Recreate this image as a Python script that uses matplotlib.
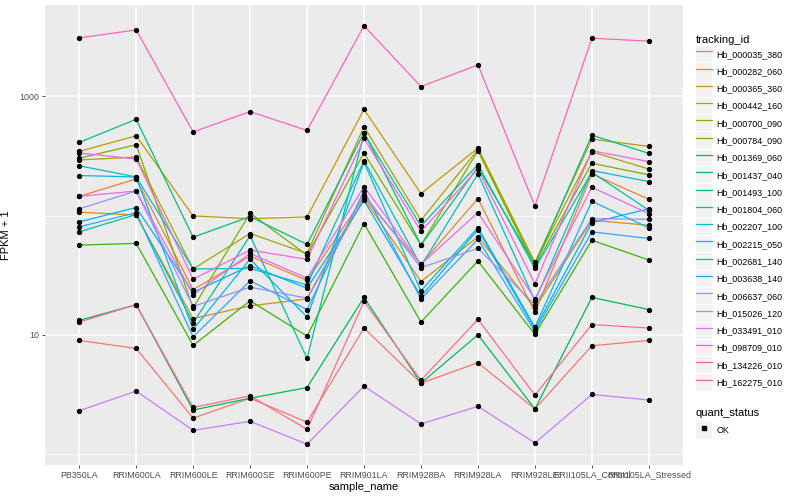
import matplotlib
matplotlib.use("Agg")
import matplotlib.pyplot as plt
from matplotlib.lines import Line2D
from matplotlib.patches import Patch
from matplotlib.ticker import FixedLocator, NullFormatter

plt.rcParams['font.family'] = ['Liberation Sans', 'DejaVu Sans']

# samples on the x axis
sample_name = ['PB350LA', 'RRIM600LA', 'RRIM600LE', 'RRIM600SE', 'RRIM600PE',
               'RRIM901LA', 'RRIM928BA', 'RRIM928LA', 'RRIM928LE',
               'RRII105LA_Control', 'RRII105LA_Stressed']

# FPKM + 1 per gene, one value per sample
hb_000035_380 = [8.97, 7.69, 2.0, 2.94, 1.85, 11.4, 3.93, 5.84, 2.39, 8.09, 8.97]
hb_000282_060 = [145, 203, 23.9, 45.8, 28.6, 143, 39.1, 139, 15.5, 224, 137]
hb_000365_360 = [107, 101, 13.7, 17.5, 20.0, 139, 28.0, 66.4, 16.8, 91.4, 83.0]
hb_000442_160 = [346, 467, 99.4, 94.4, 97.5, 779, 153, 369, 40.5, 438, 381]
hb_000700_090 = [293, 310, 35.7, 70.8, 48.2, 559, 91.4, 358, 39.8, 343, 246]
hb_000784_090 = [303, 393, 16.8, 105, 46.6, 335, 56.6, 350, 37.6, 275, 220]
hb_001369_060 = [56.6, 58.5, 8.15, 19.3, 9.75, 85.8, 12.8, 41.6, 10.1, 62.2, 42.4]
hb_001437_040 = [13.2, 17.9, 2.34, 2.94, 3.61, 20.6, 3.93, 10.0, 2.39, 20.6, 16.3]
hb_001493_100 = [411, 643, 65.9, 98.1, 57.3, 498, 56.6, 255, 38.5, 473, 333]
hb_001804_060 = [73.1, 102, 12.6, 67.8, 6.35, 489, 82.0, 268, 36.1, 231, 111]
hb_002207_100 = [262, 211, 35.7, 36.1, 26.2, 289, 37.8, 224, 19.3, 239, 193]
hb_002215_050 = [217, 211, 11.1, 43.2, 14.1, 280, 23.4, 79.4, 11.6, 132, 79.0]
hb_002681_140 = [88.6, 117, 22.7, 38.1, 24.6, 134, 21.0, 76.4, 11.2, 87.5, 114]
hb_003638_140 = [80.5, 106, 9.62, 28.4, 16.3, 162, 20.0, 63.5, 10.7, 73.1, 64.3]
hb_006637_060 = [114, 161, 17.3, 25.1, 20.3, 150, 36.6, 53.1, 17.9, 94.4, 93.1]
hb_015026_120 = [2.31, 3.37, 1.58, 1.88, 1.21, 3.71, 1.79, 2.51, 1.24, 3.16, 2.84]
hb_033491_010 = [145, 161, 21.7, 48.2, 29.9, 175, 39.1, 106, 20.0, 173, 104]
hb_098709_010 = [335, 299, 29.3, 51.4, 43.0, 444, 74.0, 246, 26.8, 350, 284]
hb_134226_010 = [3100, 3610, 504, 746, 518, 3910, 1210, 1840, 120, 3080, 2910]
hb_162275_010 = [12.8, 17.9, 2.46, 3.08, 1.61, 19.1, 4.16, 13.5, 3.12, 12.2, 11.4]

tracking_id = ['Hb_000035_380', 'Hb_000282_060', 'Hb_000365_360', 'Hb_000442_160',
               'Hb_000700_090', 'Hb_000784_090', 'Hb_001369_060', 'Hb_001437_040',
               'Hb_001493_100', 'Hb_001804_060', 'Hb_002207_100', 'Hb_002215_050',
               'Hb_002681_140', 'Hb_003638_140', 'Hb_006637_060', 'Hb_015026_120',
               'Hb_033491_010', 'Hb_098709_010', 'Hb_134226_010', 'Hb_162275_010']
series = [hb_000035_380, hb_000282_060, hb_000365_360, hb_000442_160,
          hb_000700_090, hb_000784_090, hb_001369_060, hb_001437_040,
          hb_001493_100, hb_001804_060, hb_002207_100, hb_002215_050,
          hb_002681_140, hb_003638_140, hb_006637_060, hb_015026_120,
          hb_033491_010, hb_098709_010, hb_134226_010, hb_162275_010]

# ggplot default hue palette for 20 levels
colors = ['#F8766D', '#EA8331', '#D89000', '#C09B00', '#A3A500', '#7CAE00',
          '#39B600', '#00BB4E', '#00BF7D', '#00C1A3', '#00BFC4', '#00BAE0',
          '#00B0F6', '#35A2FF', '#9590FF', '#C77CFF', '#E76BF3', '#FA62DB',
          '#FF62BC', '#FF6C91']

fig = plt.figure(figsize=(8, 5), dpi=100)
ax = fig.add_axes([45 / 800, 35 / 500, 638 / 800, 460 / 500])
ax.set_facecolor('#EBEBEB')
for s in ax.spines.values():
    s.set_visible(False)

x = list(range(1, len(sample_name) + 1))
for vals, c in zip(series, colors):
    ax.plot(x, vals, color=c, lw=0.9, zorder=3)
for vals in series:
    ax.plot(x, vals, 'o', color='black', ms=2.8, zorder=4)

ax.set_yscale('log')
ax.set_ylim(10 ** -0.092, 10 ** 3.767)
ax.set_xlim(0.4, 11.6)
ax.yaxis.set_major_locator(FixedLocator([10, 1000]))
ax.set_yticklabels(['10', '1000'])
ax.yaxis.set_minor_locator(FixedLocator([1, 100, 10000]))
ax.yaxis.set_minor_formatter(NullFormatter())
ax.set_xticks(x)
ax.set_xticklabels(sample_name)

ax.grid(True, which='major', color='white', lw=1.1, zorder=0)
ax.grid(True, which='minor', axis='y', color='white', lw=0.55, zorder=0)
ax.set_axisbelow(True)
ax.tick_params(which='major', length=2.2, width=0.6, color='#333333',
               labelcolor='#4D4D4D', labelsize=6.4, pad=1.8)
ax.tick_params(which='minor', length=0)

ax.set_xlabel('sample_name', fontsize=8, labelpad=1.5)
ax.set_ylabel('FPKM + 1', fontsize=8, labelpad=6)

# legend for tracking_id
key_opts = dict(frameon=False, fontsize=6.4, title_fontsize=8, handlelength=1.8,
                handleheight=2.46, handletextpad=0.5, borderaxespad=0, borderpad=0)
handles = [(Patch(facecolor='#F2F2F2', edgecolor='none'), Line2D([], [], color=c, lw=0.9))
           for c in colors]
leg1 = fig.legend(handles, tracking_id, title='tracking_id', loc='upper left',
                  bbox_to_anchor=(696 / 800, 1 - 35 / 500), labelspacing=0.1,
                  **key_opts)
leg1._legend_box.align = 'left'

handles2 = [(Patch(facecolor='#F2F2F2', edgecolor='none'),
             Line2D([], [], color='black', marker='s', ls='none', ms=2.6))]
leg2 = fig.legend(handles2, ['OK'], title='quant_status', loc='upper left',
                  bbox_to_anchor=(696 / 800, 1 - 408 / 500), **key_opts)
leg2._legend_box.align = 'left'

fig.savefig('out.png', dpi=100)
